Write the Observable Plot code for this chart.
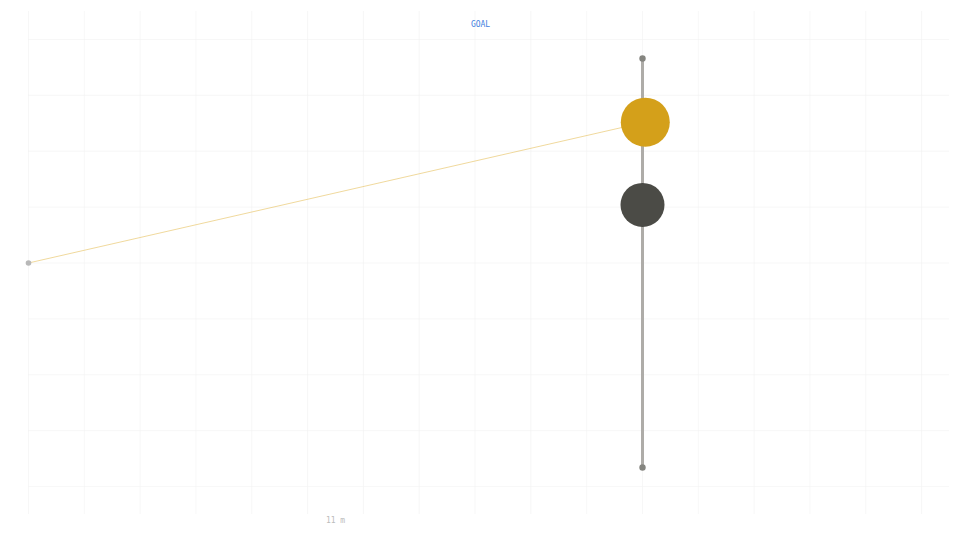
<!DOCTYPE html>
<html>
<head>
<meta charset="utf-8">
<script src="https://cdn.jsdelivr.net/npm/d3@7"></script>
<script src="https://cdn.jsdelivr.net/npm/@observablehq/plot@0.6"></script>
<style>
  html, body { margin: 0; padding: 0; background: #fff; }
  #chart svg { display: block; }
</style>
</head>
<body>
<div id="chart"></div>
<script>
// Data (metres, top-down view: x = distance from penalty spot, y = lateral offset)
const xTicks = [0,1,2,3,4,5,6,7,8,9,10,11,12,13,14,15,16];
const yTicks = [-4,-3,-2,-1,0,1,2,3,4];
const penaltySpot = [{x: 0, y: 0}];
const goalPosts = [{x: 11, y: -3.66}, {x: 11, y: 3.66}];
const ball = [{x: 11.05, y: 2.52}];
const keeper = [{x: 11, y: 1.04}];
const shotPath = [{x: 0, y: 0}, {x: 11.05, y: 2.52}];
const goalLabel = ["GOAL"];
const distanceLabel = [{x: 5.5, text: "11 m"}];

const chart = Plot.plot({
  width: 960,
  height: 540,
  marginLeft: 28,
  marginRight: 11,
  marginTop: 11,
  marginBottom: 26,
  x: {domain: [0, 16.5], axis: null},
  y: {domain: [-4.5, 4.5], axis: null},
  style: {background: "#fff"},
  marks: [
    Plot.ruleX(xTicks, {x: d => d, stroke: "#f2f2f2", strokeOpacity: 0.6, strokeWidth: 1}),
    Plot.ruleY(yTicks, {y: d => d, stroke: "#f2f2f2", strokeOpacity: 0.6, strokeWidth: 1}),
    Plot.line(shotPath, {x: "x", y: "y", stroke: "#e6bf5c", strokeWidth: 1, strokeOpacity: 0.6}),
    Plot.line(goalPosts, {x: "x", y: "y", stroke: "#aeaca8", strokeWidth: 3}),
    Plot.dot(goalPosts, {x: "x", y: "y", r: 3.2, fill: "#858580"}),
    Plot.dot(penaltySpot, {x: "x", y: "y", r: 2.8, fill: "#b8b8b8"}),
    Plot.dot(keeper, {x: "x", y: "y", r: 22, fill: "#4b4b46"}),
    Plot.dot(ball, {x: "x", y: "y", r: 24.5, fill: "#d4a01a"}),
    Plot.text(goalLabel, {text: d => d, frameAnchor: "top", dx: -8.5, dy: 10, fill: "#3f7fe0", fontSize: 8, fontFamily: "DejaVu Sans Mono"}),
    Plot.text(distanceLabel, {x: "x", text: "text", frameAnchor: "bottom", dy: 8, fill: "#bcbcbc", fontSize: 8, fontFamily: "DejaVu Sans Mono"})
  ]
});
document.getElementById("chart").appendChild(chart);
</script>
</body>
</html>
